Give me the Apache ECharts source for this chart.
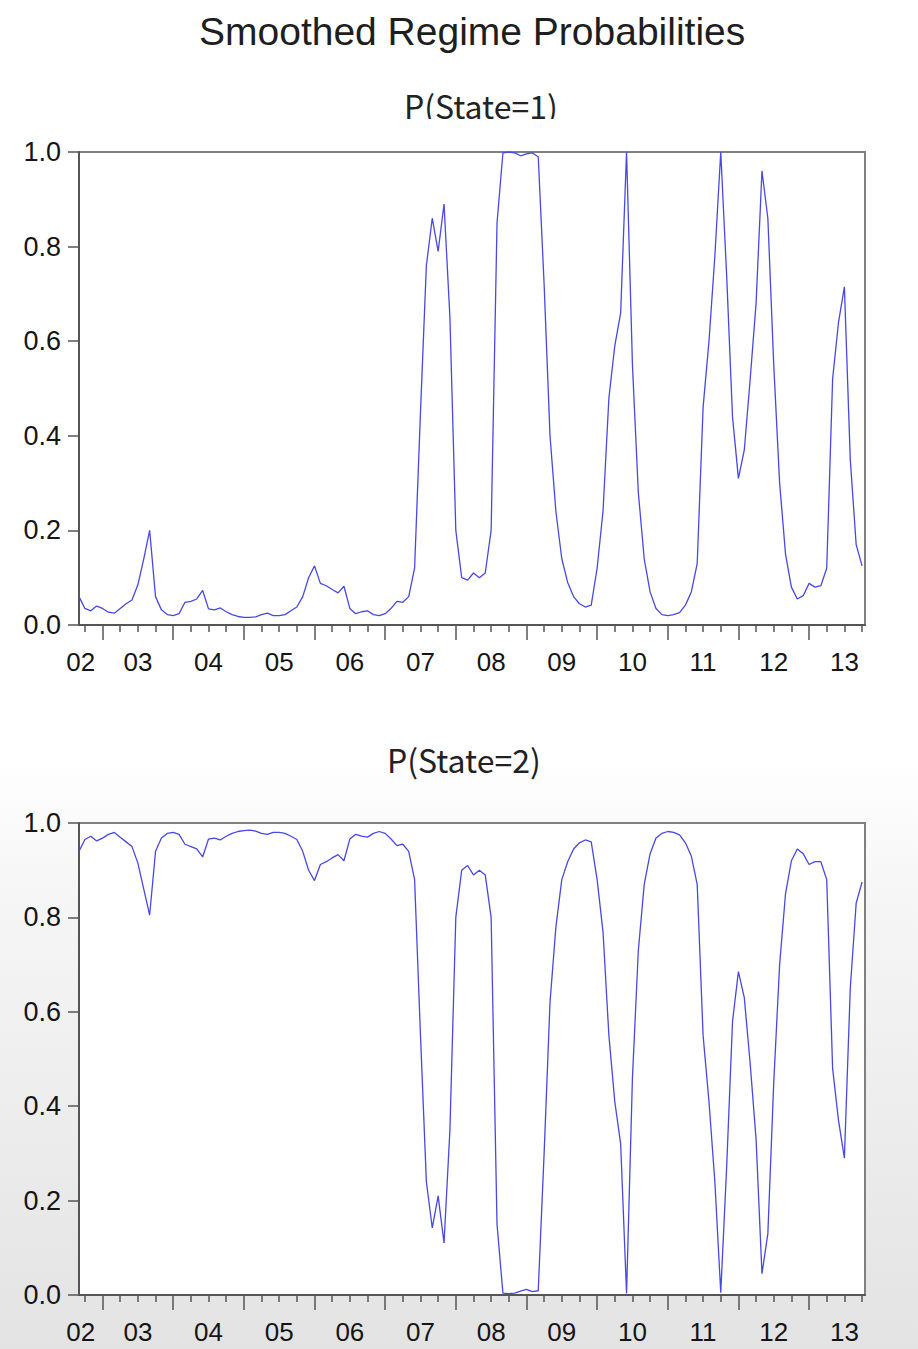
<!DOCTYPE html>
<html>
<head>
<meta charset="utf-8">
<script src="https://cdn.jsdelivr.net/npm/echarts@6/dist/echarts.min.js"></script>
<style>
html,body{margin:0;padding:0;background:#fff;}
#chart{width:918px;height:1349px;}
</style>
</head>
<body>
<div id="chart"></div>
<script>
// Monthly observations, first one = Sep 2002 (months counted from Jan 2002 = 0)
const firstMonth = 8;
const yearLabels = ['02','03','04','05','06','07','08','09','10','11','12','13'];
const yTicks = [0.0, 0.2, 0.4, 0.6, 0.8, 1.0];

const pState1 = [
  0.06,0.035,0.03,0.04,0.035,0.027,0.025,0.035,0.045,0.053,0.085,0.14,0.20,0.06,0.032,0.022,
  0.02,0.024,0.048,0.05,0.055,0.073,0.034,0.032,0.036,0.028,0.022,0.018,0.016,0.016,0.017,0.022,
  0.025,0.02,0.02,0.022,0.03,0.038,0.06,0.10,0.125,0.088,0.083,0.075,0.068,0.082,0.035,0.024,
  0.028,0.03,0.022,0.02,0.024,0.035,0.05,0.048,0.06,0.12,0.45,0.76,0.86,0.79,0.89,0.65,
  0.20,0.10,0.095,0.11,0.10,0.11,0.20,0.85,0.998,1.0,0.998,0.992,0.996,0.998,0.99,0.72,
  0.40,0.24,0.14,0.09,0.06,0.045,0.038,0.042,0.12,0.24,0.48,0.59,0.66,1.0,0.55,0.28,
  0.14,0.07,0.035,0.022,0.02,0.022,0.026,0.042,0.07,0.13,0.46,0.60,0.78,1.0,0.74,0.44,
  0.31,0.37,0.52,0.68,0.96,0.86,0.55,0.30,0.15,0.08,0.055,0.062,0.088,0.08,0.083,0.12,
  0.52,0.64,0.715,0.35,0.17,0.125
];

const pState2 = [
  0.94,0.965,0.972,0.962,0.968,0.976,0.98,0.97,0.96,0.95,0.915,0.86,0.805,0.94,0.968,0.978,
  0.98,0.976,0.955,0.95,0.945,0.928,0.966,0.968,0.964,0.972,0.978,0.982,0.984,0.985,0.983,0.978,
  0.976,0.98,0.98,0.978,0.972,0.965,0.94,0.90,0.878,0.912,0.918,0.926,0.933,0.92,0.966,0.976,
  0.972,0.97,0.978,0.982,0.978,0.966,0.952,0.955,0.94,0.88,0.55,0.24,0.142,0.21,0.11,0.35,
  0.80,0.90,0.91,0.89,0.90,0.89,0.80,0.15,0.004,0.003,0.004,0.008,0.012,0.007,0.009,0.30,
  0.62,0.78,0.88,0.918,0.945,0.958,0.964,0.96,0.88,0.77,0.55,0.41,0.32,0.003,0.46,0.73,
  0.87,0.935,0.968,0.978,0.982,0.98,0.975,0.958,0.93,0.87,0.55,0.41,0.24,0.005,0.27,0.58,
  0.685,0.63,0.49,0.33,0.045,0.13,0.45,0.70,0.85,0.92,0.945,0.935,0.912,0.918,0.918,0.88,
  0.48,0.37,0.29,0.65,0.83,0.875
];

const months = pState1.map((_, i) => firstMonth + i);
const xMin = firstMonth;
const xMax = months[months.length - 1] + 0.5;

// tick positions on the month axis
const yearTicks = [];
const quarterTicks = [];
for (let m = Math.ceil(xMin); m <= xMax; m++) {
  if (m % 12 === 0) yearTicks.push(m);
  else if (m % 3 === 0) quarterTicks.push(m);
}
const labelPos = yearLabels.map((_, i) => Math.min(Math.max(i * 12 + 6, xMin + 0.3), xMax));

const axisFont = 'Liberation Sans, Arial, sans-serif';
const subFont = 'Noto Sans CJK SC, Noto Sans, sans-serif';
const lineColor = '#4848e2';
const frameColor = '#555555';

function xAxesFor(gridIndex) {
  return [
    {
      type: 'value', gridIndex, min: xMin, max: xMax, position: 'bottom',
      axisLine: {show: true, onZero: false, lineStyle: {color: frameColor, width: 2}},
      axisTick: {show: true, customValues: quarterTicks, length: 7, lineStyle: {color: frameColor, width: 1.5}},
      axisLabel: {
        show: true, customValues: labelPos, margin: 24,
        fontFamily: axisFont, fontSize: 26, color: '#151515',
        formatter: v => yearLabels[Math.floor(v / 12)]
      },
      splitLine: {show: false}
    },
    {
      type: 'value', gridIndex, min: xMin, max: xMax, position: 'bottom',
      axisLine: {show: false, onZero: false},
      axisTick: {show: true, customValues: yearTicks, length: 15, lineStyle: {color: frameColor, width: 1.5}},
      axisLabel: {show: false},
      splitLine: {show: false}
    }
  ];
}

function yAxisFor(gridIndex) {
  return {
    type: 'value', gridIndex, min: yTicks[0], max: yTicks[yTicks.length - 1], interval: 0.2,
    axisLine: {show: true, lineStyle: {color: frameColor, width: 2}},
    axisTick: {show: true, length: 11, lineStyle: {color: frameColor, width: 1.5}},
    axisLabel: {margin: 18, fontFamily: axisFont, fontSize: 27, color: '#151515',
      formatter: v => v.toFixed(1)},
    splitLine: {show: false}
  };
}

const chart = echarts.init(document.getElementById('chart'), null, {renderer: 'svg'});
chart.setOption({
  animation: false,
  backgroundColor: {
    type: 'linear', x: 0, y: 0, x2: 0, y2: 1,
    colorStops: [
      {offset: 0, color: '#ffffff'},
      {offset: 0.56, color: '#ffffff'},
      {offset: 0.66, color: '#f6f6f6'},
      {offset: 1, color: '#e3e3e3'}
    ]
  },
  title: [
    {text: 'Smoothed Regime Probabilities', left: 194, top: 7,
      textStyle: {fontFamily: axisFont, fontSize: 39, fontWeight: 'normal', color: '#1e1e1e'}},
    {text: 'P(State=1)', left: 399, top: 84,
      textStyle: {fontFamily: subFont, fontSize: 32, fontWeight: 'normal', color: '#222'}},
    {text: 'P(State=2)', left: 382, top: 738,
      textStyle: {fontFamily: subFont, fontSize: 32, fontWeight: 'normal', color: '#222'}}
  ],
  graphic: [
    {type: 'rect', left: 380, top: 119, z: 100, silent: true,
      shape: {width: 200, height: 31}, style: {fill: '#ffffff'}}
  ],
  grid: [
    {left: 79, top: 152, width: 786, height: 473, show: true, backgroundColor: '#ffffff',
      borderColor: '#808080', borderWidth: 2},
    {left: 79, top: 823, width: 786, height: 472, show: true, backgroundColor: '#ffffff',
      borderColor: '#808080', borderWidth: 2}
  ],
  xAxis: [...xAxesFor(0), ...xAxesFor(1)],
  yAxis: [yAxisFor(0), yAxisFor(1)],
  series: [
    {name: 'P(State=1)', type: 'line', xAxisIndex: 0, yAxisIndex: 0,
      data: months.map((m, i) => [m, pState1[i]]),
      showSymbol: false, lineStyle: {color: lineColor, width: 1.3}, itemStyle: {color: lineColor}},
    {name: 'P(State=2)', type: 'line', xAxisIndex: 2, yAxisIndex: 1,
      data: months.map((m, i) => [m, pState2[i]]),
      showSymbol: false, lineStyle: {color: lineColor, width: 1.3}, itemStyle: {color: lineColor}}
  ]
});
</script>
</body>
</html>
